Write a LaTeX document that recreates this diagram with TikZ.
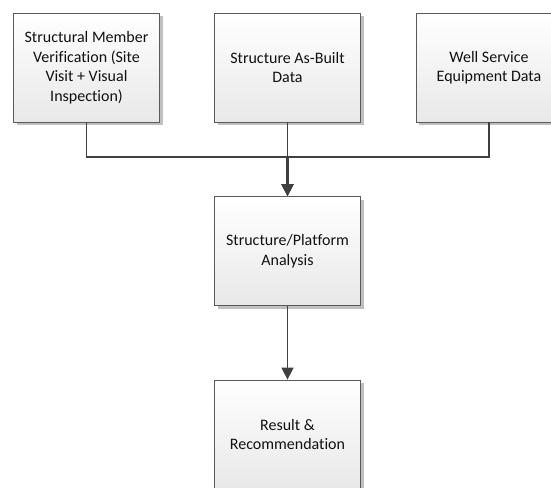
\documentclass[tikz,border=0pt]{standalone}
\usepackage{fontspec}
\setmainfont[RawFeature=-liga]{Carlito}
\usetikzlibrary{arrows.meta,shadows}
\definecolor{edge}{HTML}{5A5A5A}
\definecolor{wire}{HTML}{404040}
\definecolor{ink}{HTML}{111111}
\tikzset{
  procbox/.style={rectangle, draw=edge, line width=0.8pt,
    top color=white, bottom color=black!9,
    minimum width=146pt, minimum height=109pt, inner sep=0pt,
    align=center, text=ink, font=\fontsize{16}{19.5}\selectfont,
    drop shadow={shadow xshift=3pt, shadow yshift=-3pt, fill=black!35, opacity=0.7}},
  link/.style={draw=wire, line width=1.6pt},
  flow/.style={link, -{Triangle[length=12pt,width=12pt]}}
}
\begin{document}
\begin{tikzpicture}[x=1pt,y=1pt]
\useasboundingbox (0,0) rectangle (551,-487);
\fill[white] (0,0) rectangle (551,-487);

\node[procbox] (verif) at (86.5,-67.5) {Structural Member\\Verification (Site\\Visit + Visual\\Inspection)};
\node[procbox] (asbuilt) at (287.5,-67.5) {Structure As-Built\\Data};
\node[procbox] (well) at (489,-67.5) {Well Service\\Equipment Data};
\node[procbox] (analysis) at (287.5,-251) {Structure/Platform\\Analysis};
\node[procbox] (result) at (287.5,-434.5) {Result \&\\Recommendation};

\draw[flow] (verif.south) -- ++(0,-34.5) -| (analysis.north);
\draw[flow] (well.south) -- ++(0,-34.5) -| (analysis.north);
\draw[link] (asbuilt.south) -- ++(0,-34.5);
\draw[flow, line width=2.2pt] ([yshift=-34.5pt]asbuilt.south) -- (analysis.north);
\draw[flow] (analysis.south) -- (result.north);
\end{tikzpicture}
\end{document}
